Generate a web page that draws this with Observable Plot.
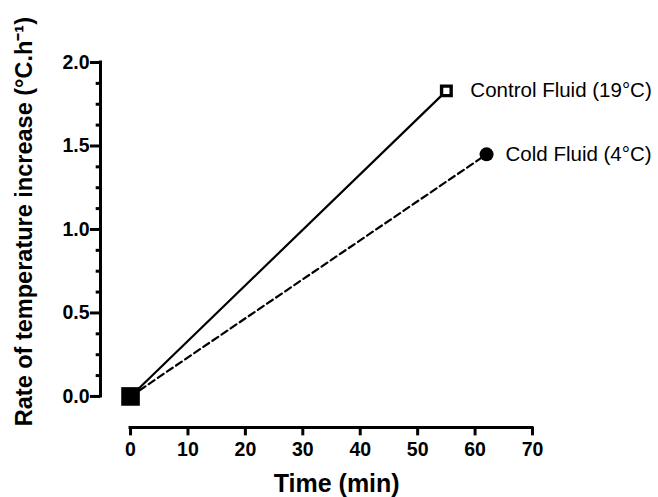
<!DOCTYPE html>
<html>
<head>
<meta charset="utf-8">
<script src="https://cdn.jsdelivr.net/npm/d3@7"></script>
<script src="https://cdn.jsdelivr.net/npm/@observablehq/plot@0.6"></script>
<style>
  html, body { margin: 0; padding: 0; background: #fff; }
  #chart svg { display: block; }
</style>
</head>
<body>
<div id="chart"></div>
<script>
// ---- data ----
const controlTime = [0, 55];
const controlRate = [0, 1.83];
const coldTime = [0, 62];
const coldRate = [0, 1.45];
const seriesLabels = ["Control Fluid (19°C)", "Cold Fluid (4°C)"];
const xTicks = [0, 10, 20, 30, 40, 50, 60, 70];
const yTicks = [0, 0.5, 1.0, 1.5, 2.0];
const yMinorTicks = [0.125, 0.25, 0.375, 0.625, 0.75, 0.875, 1.125, 1.25, 1.375, 1.625, 1.75, 1.875];
const xTitle = "Time (min)";
const yTitle = "Rate of temperature increase (°C.h⁻¹)";

const control = controlTime.map((t, i) => ({t, r: controlRate[i]}));
const cold = coldTime.map((t, i) => ({t, r: coldRate[i]}));
const ends = [
  {t: controlTime[1], r: controlRate[1], label: seriesLabels[0]},
  {t: coldTime[1], r: coldRate[1], label: seriesLabels[1]}
];

const font = "'Liberation Sans', Arial, Helvetica, sans-serif";
const xLo = -5.23, yLo = -0.186;
const xTickLen = 0.05;   // ~8px in y units
const yTickLen = 1.75;   // ~10px in x units
const yMinorLen = 0.75;  // ~4px in x units

const chart = Plot.plot({
  width: 658,
  height: 497,
  marginLeft: 100,
  marginRight: 126,
  marginTop: 62,
  marginBottom: 70,
  style: {fontFamily: font, background: "#fff", overflow: "visible"},
  x: {domain: [xLo, 70]},
  y: {domain: [yLo, 2.0]},
  marks: [
    // axis lines
    Plot.ruleX([xLo], {y1: 0, y2: 2.0, stroke: "black", strokeWidth: 3, strokeLinecap: "square"}),
    Plot.ruleY([yLo], {x1: 0, x2: 70, stroke: "black", strokeWidth: 3, strokeLinecap: "square"}),
    // tick marks
    Plot.ruleY(yTicks, {x1: xLo - yTickLen, x2: xLo, stroke: "black", strokeWidth: 3}),
    Plot.ruleY(yMinorTicks, {x1: xLo - yMinorLen, x2: xLo, stroke: "black", strokeWidth: 3}),
    Plot.ruleX(xTicks, {y1: yLo - xTickLen, y2: yLo, stroke: "black", strokeWidth: 3}),
    // tick labels
    Plot.axisY({ticks: yTicks, tickSize: 0, tickPadding: 11, tickFormat: d3.format(".1f"),
      fontSize: 19.5, fontWeight: "bold", label: null}),
    Plot.axisX({ticks: xTicks, tickSize: 0, tickPadding: 15,
      fontSize: 19.5, fontWeight: "bold", label: null}),
    // axis titles
    Plot.text([xTitle], {x: 35.9, y: yLo, dy: 56, text: d => d, fontSize: 25, fontWeight: "bold", fill: "black"}),
    Plot.text([yTitle], {x: xLo, y: 1.047, dx: -76, rotate: -90, text: d => d, fontSize: 23.5, fontWeight: "bold", fill: "black"}),
    // lines
    Plot.line(control, {x: "t", y: "r", stroke: "black", strokeWidth: 2.2}),
    Plot.line(cold, {x: "t", y: "r", stroke: "black", strokeWidth: 2.2, strokeDasharray: "7,4"}),
    // markers
    Plot.dot([control[0]], {x: "t", y: "r", symbol: "square", r: 10.5, fill: "black", stroke: "none"}),
    Plot.dot([ends[0]], {x: "t", y: "r", symbol: "square", r: 5.4, fill: "white", stroke: "black", strokeWidth: 3.4}),
    Plot.dot([ends[1]], {x: "t", y: "r", symbol: "circle", r: 7, fill: "black", stroke: "none"}),
    // labels
    Plot.text([ends[0]], {x: "t", y: "r", text: "label", dx: 24, textAnchor: "start", fontSize: 20.5, fill: "black"}),
    Plot.text([ends[1]], {x: "t", y: "r", text: "label", dx: 19, textAnchor: "start", fontSize: 20.5, fill: "black"})
  ]
});
chart.querySelectorAll("text").forEach(t => t.setAttribute("fill", "black"));
document.getElementById("chart").appendChild(chart);
</script>
</body>
</html>
